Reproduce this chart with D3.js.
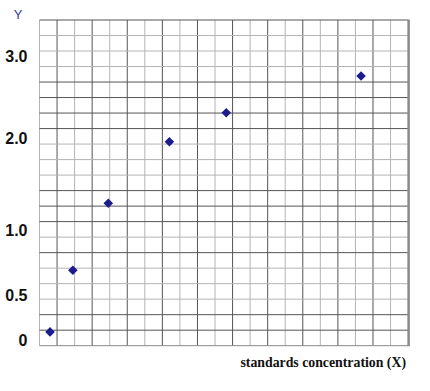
<!DOCTYPE html>
<html>
<head>
<meta charset="utf-8">
<script src="https://cdn.jsdelivr.net/npm/d3@7"></script>
<style>
  body { margin: 0; background: #fff; }
</style>
</head>
<body>
<div id="chart"></div>
<script>
// standards: x in grid units, y
const xValues = [0.6, 1.9, 3.92, 7.4, 10.64, 18.32];
const yValues = [0.09, 0.69, 1.29, 1.96, 2.31, 2.76];
const yTicks = [0, 0.5, 1, 2, 3];
const yTickLabels = ["0", "0.5", "1.0", "2.0", "3.0"];
const darkRows = [0, 4, 5, 6, 7, 11, 12, 13, 15, 19, 20];

const width = 430, height = 391;
const gridLeft = 39.5, gridRight = 408.1, gridTop = 20, gridBottom = 345.7;
const nCols = 21, nRows = 21;

const svg = d3.select("#chart")
  .append("svg")
  .attr("width", width)
  .attr("height", height)
  .style("display", "block");

const x = d3.scaleLinear().domain([0, nCols]).range([gridLeft, gridRight]);
// the printed axis is not evenly spaced, so piecewise scale
const y = d3.scaleLinear().domain(yTicks).range([340, 295, 230, 138, 56.5]);
const row = d3.scaleLinear().domain([0, nRows]).range([gridTop, gridBottom]);

const grid = svg.append("g");

// vertical grid lines
grid.selectAll(".vline")
  .data(d3.range(nCols))
  .enter()
  .append("line")
  .attr("x1", (d) => x(d))
  .attr("x2", (d) => x(d))
  .attr("y1", gridTop)
  .attr("y2", gridBottom)
  .style("stroke", (d) => (d % 2 === 1 ? "#555" : "#b4b4b4"))
  .style("stroke-width", 1);

// horizontal grid lines
grid.selectAll(".hline")
  .data(d3.range(nRows + 1))
  .enter()
  .append("line")
  .attr("x1", gridLeft)
  .attr("x2", gridRight)
  .attr("y1", (d) => row(d))
  .attr("y2", (d) => row(d))
  .style("stroke", (d) =>
    d === nRows ? "#888" : darkRows.includes(d) ? "#555" : "#b4b4b4")
  .style("stroke-width", 1);

// right border
grid.append("line")
  .attr("x1", gridRight + 0.5)
  .attr("x2", gridRight + 0.5)
  .attr("y1", gridTop - 0.5)
  .attr("y2", gridBottom + 0.5)
  .style("stroke", "#8a8a8a")
  .style("stroke-width", 2.5);

// y tick labels
svg.selectAll(".ylab")
  .data(yTicks)
  .enter()
  .append("text")
  .attr("x", 27.5)
  .attr("y", (d) => y(d))
  .attr("dy", "0.36em")
  .attr("text-anchor", "end")
  .style("font-family", "Liberation Sans, Arial, sans-serif")
  .style("font-weight", "bold")
  .style("font-size", "16px")
  .style("fill", "#111")
  .text((d, i) => yTickLabels[i]);

svg.append("text")
  .attr("x", 18)
  .attr("y", 19)
  .attr("text-anchor", "middle")
  .style("font-family", "Liberation Sans, Arial, sans-serif")
  .style("font-size", "13px")
  .style("fill", "#3b3b9c")
  .text("Y");

svg.append("text")
  .attr("x", 406)
  .attr("y", 366.5)
  .attr("text-anchor", "end")
  .style("font-family", "Liberation Serif, Times New Roman, serif")
  .style("font-weight", "bold")
  .style("font-size", "13.8px")
  .style("fill", "#111")
  .text("standards concentration (X)");

// points as diamonds
const data = xValues.map((v, i) => ({ x: v, y: yValues[i] }));
svg.selectAll(".pt")
  .data(data)
  .enter()
  .append("path")
  .attr("d", d3.symbol().type(d3.symbolSquare).size(46))
  .attr("transform", (d) => `translate(${x(d.x)},${y(d.y)}) rotate(45)`)
  .style("fill", "#1c1c8c");
</script>
</body>
</html>
